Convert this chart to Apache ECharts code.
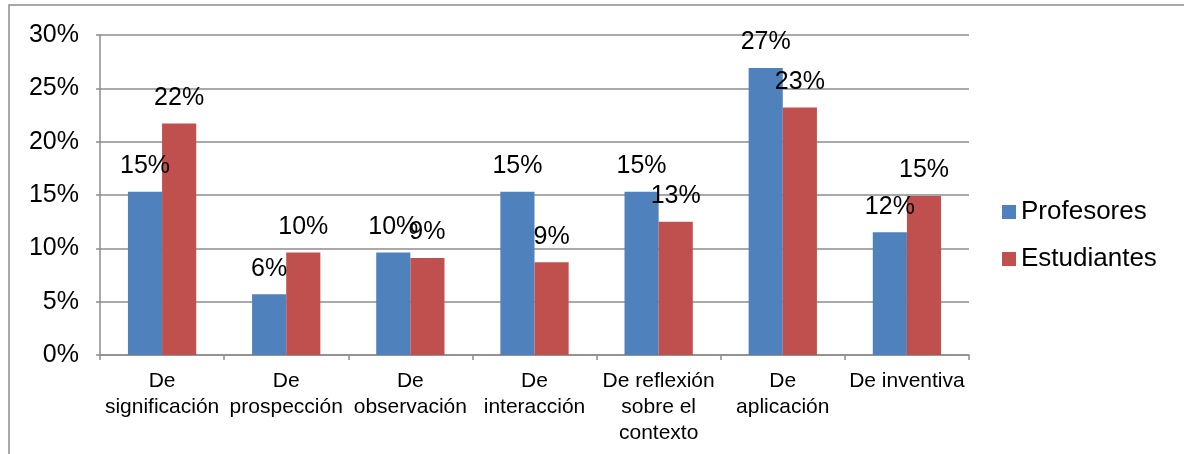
<!DOCTYPE html>
<html lang="es">
<head>
    <meta charset="UTF-8">
    <title>Profesores / Estudiantes</title>
    <script src="https://cdn.jsdelivr.net/npm/echarts@6/dist/echarts.min.js"></script>
    <style>
        html, body {margin: 0; padding: 0; background: #fff;}
        #chart {width: 1184px; height: 454px;}
    </style>
</head>
<body>
<div id="chart"></div>
<script>
    // categorías del eje x
    var categorias = ['De\nsignificación', 'De\nprospección', 'De\nobservación', 'De\ninteracción',
        'De reflexión\nsobre el\ncontexto', 'De\naplicación', 'De inventiva'];
    // valores (fracción)
    var profesores = [0.153, 0.057, 0.096, 0.153, 0.153, 0.269, 0.115];
    var estudiantes = [0.217, 0.096, 0.091, 0.087, 0.125, 0.232, 0.149];
    var series_nombres = ['Profesores', 'Estudiantes'];

    var fuente = '"Liberation Sans", Arial, sans-serif';
    var pct = function (v) { return Math.round(v * 100) + '%'; };

    var myChart = echarts.init(document.getElementById('chart'));
    var etiqueta = {
        show: true,
        position: 'top',
        distance: 13,
        color: '#000',
        fontFamily: fuente,
        fontSize: 25,
        formatter: function (p) { return pct(p.value); }
    };
    var option = {
        animation: false,
        textStyle: {fontFamily: fuente},
        graphic: [{
            type: 'rect',
            shape: {x: 9, y: 5, width: 1300, height: 600},
            style: {fill: 'none', stroke: '#8c8c8c', lineWidth: 1.5},
            silent: true
        }],
        grid: {left: 100, right: 215, top: 35, bottom: 99},
        legend: {
            orient: 'vertical',
            left: 997,
            top: 194,
            itemWidth: 14,
            itemHeight: 14,
            itemGap: 21,
            icon: 'rect',
            data: series_nombres,
            textStyle: {color: '#000', fontSize: 26, fontFamily: fuente, lineHeight: 26}
        },
        xAxis: {
            type: 'category',
            data: categorias,
            axisLine: {lineStyle: {color: '#8c8c8c', width: 1.5}},
            axisTick: {show: true, length: 5, lineStyle: {color: '#8c8c8c', width: 1.5}},
            axisLabel: {
                color: '#000', fontSize: 21, fontFamily: fuente, lineHeight: 26,
                margin: 13, interval: 0
            }
        },
        yAxis: {
            type: 'value',
            min: 0,
            max: 0.3,
            interval: 0.05,
            axisLine: {show: true, lineStyle: {color: '#8c8c8c', width: 1.5}},
            axisTick: {show: true, length: 4, lineStyle: {color: '#8c8c8c', width: 1.5}},
            splitLine: {lineStyle: {color: '#8c8c8c', width: 1.5}},
            axisLabel: {
                color: '#000', fontSize: 25, fontFamily: fuente, margin: 21,
                formatter: function (v) { return pct(v); }
            }
        },
        series: [
            {
                name: series_nombres[0],
                type: 'bar',
                data: profesores,
                barGap: '0%',
                barCategoryGap: '45%',
                itemStyle: {color: '#4f81bd'},
                label: etiqueta
            },
            {
                name: series_nombres[1],
                type: 'bar',
                data: estudiantes,
                barGap: '0%',
                barCategoryGap: '45%',
                itemStyle: {color: '#c0504d'},
                label: etiqueta
            }
        ]
    };
    myChart.setOption(option);
</script>
</body>
</html>
